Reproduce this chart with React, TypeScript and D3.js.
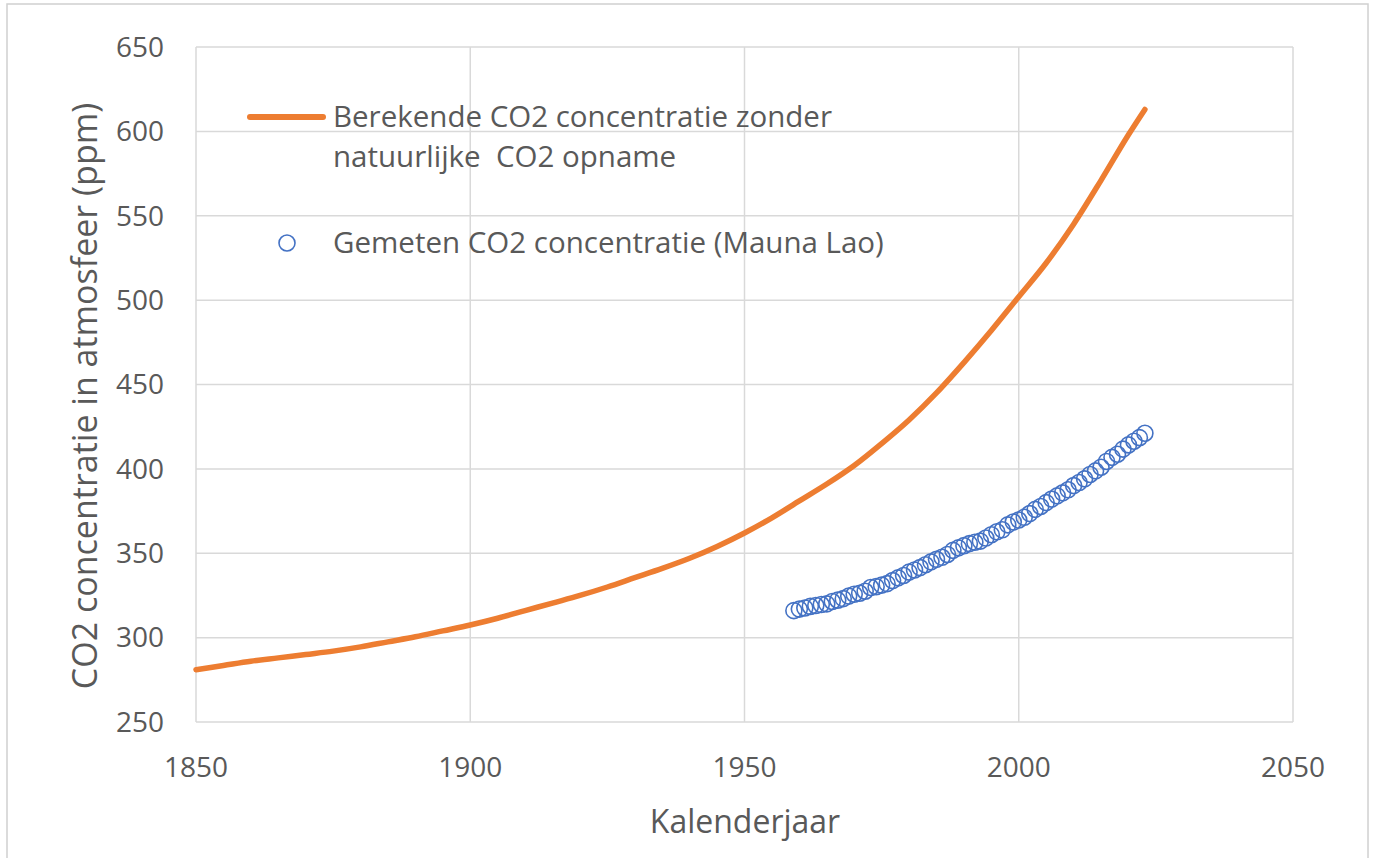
import React, { useRef, useEffect } from 'react';
import * as d3 from 'd3';

const calcYears = [1850, 1855, 1860, 1865, 1870, 1875, 1880, 1885, 1890, 1895, 1900, 1905, 1910, 1915, 1920, 1925, 1930, 1935, 1940, 1945, 1950, 1955, 1960, 1965, 1970, 1975, 1980, 1985, 1990, 1995, 2000, 2005, 2010, 2015, 2020, 2023];
const calcValues = [281, 283.5, 286, 288, 290, 292, 294.5, 297.5, 300.5, 304, 307.5, 311.5, 316, 320.5, 325, 330, 335.5, 341, 347, 354, 362, 371, 381, 391, 402, 415, 429, 445, 463, 482, 502, 522, 545, 571, 598, 613];

// gemeten (Mauna Loa), jaargemiddelden
const measYears = d3.range(1959, 2024);
const measValues = [316.0, 316.9, 317.6, 318.5, 319.0, 319.6, 320.0, 321.4, 322.2, 323.1, 324.6, 325.7, 326.3, 327.5, 329.7, 330.2, 331.1, 332.0, 333.8, 335.4, 336.8, 338.8, 340.1, 341.5, 343.2, 344.9, 346.4, 347.6, 349.3, 351.7, 353.2, 354.5, 355.7, 356.5, 357.2, 359.0, 361.0, 362.7, 363.9, 366.8, 368.5, 369.7, 371.3, 373.5, 376.0, 377.7, 380.0, 382.1, 384.0, 385.8, 387.6, 390.1, 391.9, 394.1, 396.7, 398.8, 401.0, 404.4, 406.8, 408.7, 411.7, 414.2, 416.4, 418.5, 421.1];

const xTicks = [1850, 1900, 1950, 2000, 2050];
const yTicks = [250, 300, 350, 400, 450, 500, 550, 600, 650];

const legendLine1 = 'Berekende CO2 concentratie zonder';
const legendLine2 = 'natuurlijke  CO2 opname';
const legendMeas = 'Gemeten CO2 concentratie (Mauna Lao)';
const xTitle = 'Kalenderjaar';
const yTitle = 'CO2 concentratie in atmosfeer (ppm)';

const App = () => {
    const ref = useRef(null);

    useEffect(() => {
        const svg = d3.select(ref.current);
        svg.selectAll('*').remove();

        const font = '"Open Sans", sans-serif';
        const textColor = '#595959';
        const gridColor = '#d9d9d9';
        const orange = '#ED7D31';
        const blue = '#4472C4';

        // kader
        svg.append('rect')
           .attr('x', 7).attr('y', 4)
           .attr('width', 1361).attr('height', 870)
           .attr('fill', 'white')
           .attr('stroke', '#d0d0d0')
           .attr('stroke-width', 1.5);

        const x = d3.scaleLinear().domain([1850, 2050]).range([196, 1293]);
        const y = d3.scaleLinear().domain([250, 650]).range([722, 47]);

        const g = svg.append('g');

        // rasterlijnen
        g.selectAll('.hgrid')
         .data(yTicks)
         .enter()
         .append('line')
         .attr('x1', x(1850)).attr('x2', x(2050))
         .attr('y1', d => y(d)).attr('y2', d => y(d))
         .attr('stroke', gridColor)
         .attr('stroke-width', 1.5);

        g.selectAll('.vgrid')
         .data(xTicks)
         .enter()
         .append('line')
         .attr('x1', d => x(d)).attr('x2', d => x(d))
         .attr('y1', y(250)).attr('y2', y(650))
         .attr('stroke', gridColor)
         .attr('stroke-width', 1.5);

        // as-labels
        g.selectAll('.ylab')
         .data(yTicks)
         .enter()
         .append('text')
         .attr('x', 164)
         .attr('y', d => y(d))
         .attr('dy', '0.35em')
         .attr('text-anchor', 'end')
         .attr('font-family', font)
         .attr('font-size', 28)
         .attr('fill', textColor)
         .text(d => d);

        g.selectAll('.xlab')
         .data(xTicks)
         .enter()
         .append('text')
         .attr('x', d => x(d))
         .attr('y', 767)
         .attr('dy', '0.35em')
         .attr('text-anchor', 'middle')
         .attr('font-family', font)
         .attr('font-size', 28)
         .attr('fill', textColor)
         .text(d => d);

        g.append('text')
         .attr('x', 745)
         .attr('y', 822)
         .attr('dy', '0.35em')
         .attr('text-anchor', 'middle')
         .attr('font-family', font)
         .attr('font-size', 32)
         .attr('fill', textColor)
         .text(xTitle);

        g.append('text')
         .attr('transform', 'translate(85,' + 396 + ') rotate(-90)')
         .attr('dy', '0.35em')
         .attr('text-anchor', 'middle')
         .attr('font-family', font)
         .attr('font-size', 34)
         .attr('fill', textColor)
         .text(yTitle);

        // berekende lijn
        const calc = calcYears.map((d, i) => ({ year: d, value: calcValues[i] }));
        const line = d3.line()
                       .x(d => x(d.year))
                       .y(d => y(d.value))
                       .curve(d3.curveMonotoneX);

        g.append('path')
         .datum(calc)
         .attr('d', line)
         .attr('fill', 'none')
         .attr('stroke', orange)
         .attr('stroke-width', 5.5)
         .attr('stroke-linecap', 'round');

        // gemeten punten
        const meas = measYears.map((d, i) => ({ year: d, value: measValues[i] }));
        g.selectAll('.point')
         .data(meas)
         .enter()
         .append('circle')
         .attr('cx', d => x(d.year))
         .attr('cy', d => y(d.value))
         .attr('r', 8)
         .attr('fill', 'none')
         .attr('stroke', blue)
         .attr('stroke-width', 1.6);

        // legenda
        g.append('line')
         .attr('x1', 250).attr('x2', 323)
         .attr('y1', 117).attr('y2', 117)
         .attr('stroke', orange)
         .attr('stroke-width', 6)
         .attr('stroke-linecap', 'round');

        const legendSize = 29.5;

        g.append('text')
         .attr('x', 333).attr('y', 117)
         .attr('dy', '0.35em')
         .attr('font-family', font)
         .attr('font-size', legendSize)
         .attr('fill', textColor)
         .text(legendLine1);

        g.append('text')
         .attr('x', 333).attr('y', 157)
         .attr('dy', '0.35em')
         .attr('font-family', font)
         .attr('font-size', legendSize)
         .attr('fill', textColor)
         .style('white-space', 'pre')
         .text(legendLine2);

        g.append('circle')
         .attr('cx', 287).attr('cy', 243)
         .attr('r', 8)
         .attr('fill', 'none')
         .attr('stroke', blue)
         .attr('stroke-width', 1.6);

        g.append('text')
         .attr('x', 333).attr('y', 243)
         .attr('dy', '0.35em')
         .attr('font-family', font)
         .attr('font-size', legendSize)
         .attr('fill', textColor)
         .text(legendMeas);

    }, []);

    return (
        <svg ref={ref}
             width={1373}
             height={858}
             style={{ position: 'absolute', left: 0, top: 0, background: 'white' }}></svg>
    );
};

export default App;
